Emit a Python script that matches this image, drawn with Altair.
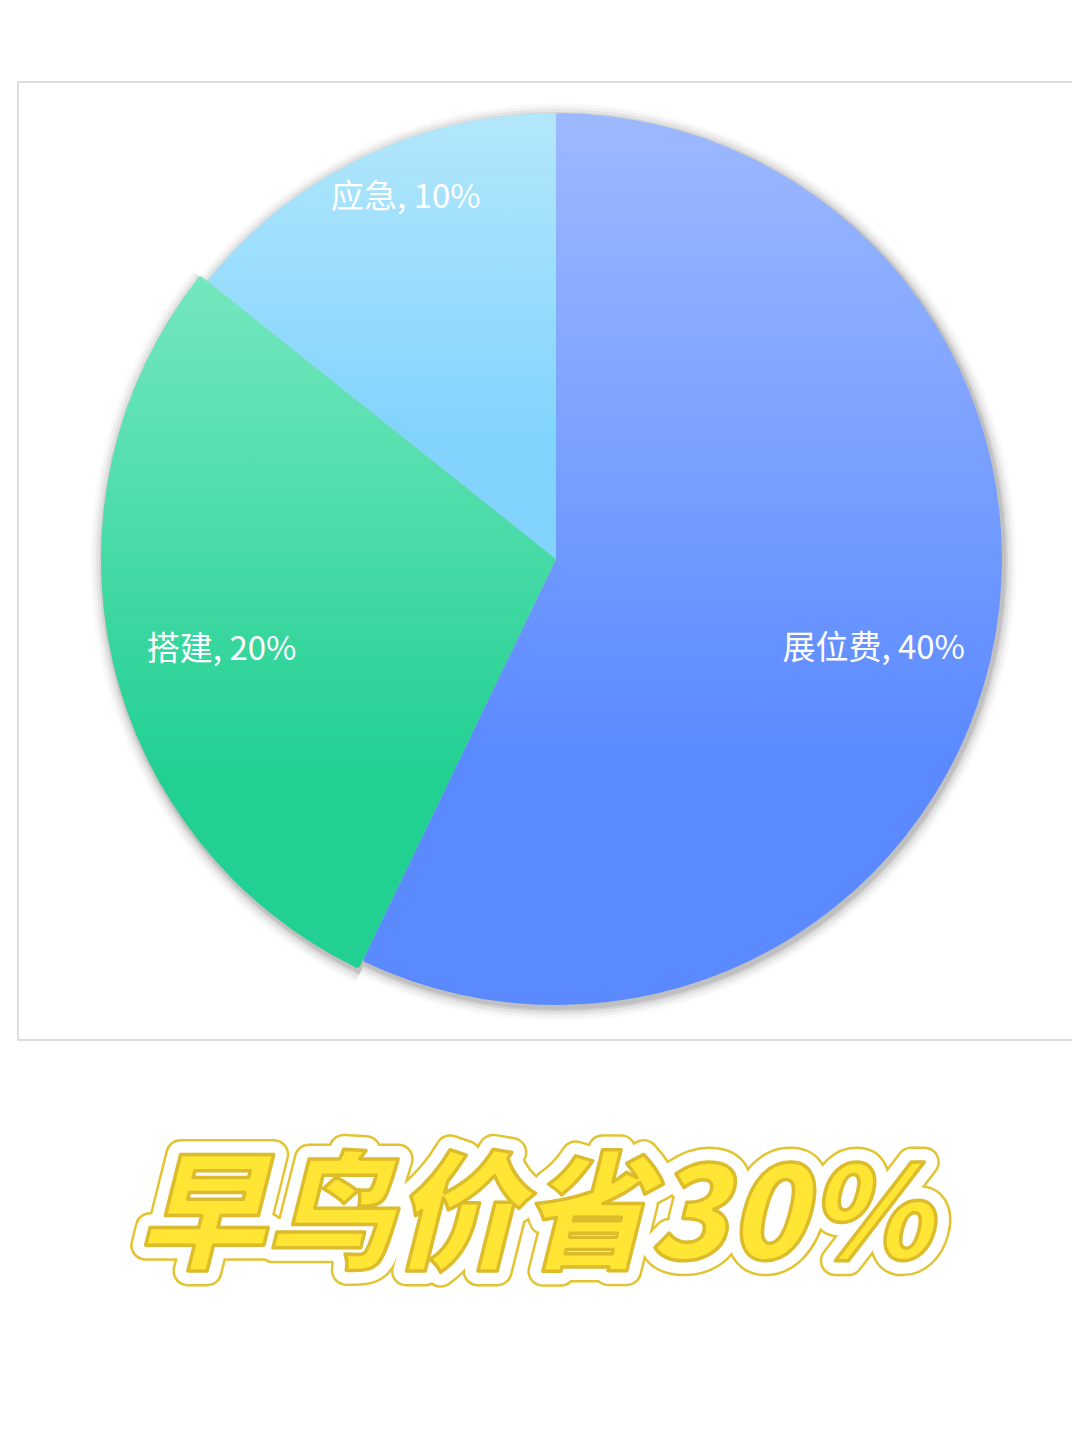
import altair as alt
import pandas as pd

# ---- data ----
categories = ["展位费", "搭建", "应急"]
values = [40, 20, 10]
title_text = ["早鸟价省30%"]

# ---- styles ----
CX, CY = 548, 551
W, H = 1064, 1423
radius = {"展位费": 446, "搭建": 455, "应急": 446}
grad = {
    "展位费": ("#9db9ff", "#5b8aff"),
    "搭建": ("#74e7bf", "#22d092"),
    "应急": ("#b3e7fb", "#82d4fe"),
}
label_style = {
    "展位费": dict(radius=332, dx=-6, dy=16),
    "搭建": dict(radius=345, dx=2, dy=14),
    "应急": dict(radius=392, dx=20, dy=-8),
}

df = pd.DataFrame({"category": categories, "value": values})

base = (
    alt.Chart(df)
    .transform_window(cum="sum(value)", frame=[None, 0])
    .transform_joinaggregate(total="sum(value)")
    .transform_calculate(
        start="(datum.cum - datum.value) / datum.total * 2 * PI",
        end="datum.cum / datum.total * 2 * PI",
        label="datum.category + ', ' + datum.value + '%'",
    )
    .transform_calculate(mid="(datum.start + datum.end) / 2")
)

layers = []

# frame
frame = alt.Chart(alt.Data(values=[{"k": 1}])).mark_rect(
    fill="white", stroke="#d4d4d4", strokeWidth=1.5
).encode(x=alt.value(10), x2=alt.value(1090), y=alt.value(74), y2=alt.value(1032))
layers.append(frame)

# shadows
for cat in categories:
    r = radius[cat]
    for k, op in [(13, 0.02), (10, 0.035), (7, 0.05), (4, 0.07), (2, 0.09)]:
        layers.append(
            base.transform_filter(alt.datum.category == cat)
            .mark_arc(color="#000000", opacity=op, outerRadius=r + k)
            .encode(
                theta=alt.Theta("start:Q", scale=None),
                theta2=alt.Theta2("end:Q"),
                x=alt.value(CX + 2),
                y=alt.value(CY + 3),
            )
        )

# slices
for cat in categories:
    c0, c1 = grad[cat]
    g = alt.Gradient(
        gradient="linear",
        stops=[
            alt.GradientStop(color=c0, offset=0),
            alt.GradientStop(color=c1, offset=0.72),
            alt.GradientStop(color=c1, offset=1),
        ],
        x1=0, x2=0, y1=0, y2=1,
    )
    layers.append(
        base.transform_filter(alt.datum.category == cat)
        .mark_arc(color=g, outerRadius=radius[cat], cornerRadius=3)
        .encode(
            theta=alt.Theta("start:Q", scale=None),
            theta2=alt.Theta2("end:Q"),
            x=alt.value(CX),
            y=alt.value(CY),
        )
    )

# labels
for cat in categories:
    s = label_style[cat]
    layers.append(
        base.transform_filter(alt.datum.category == cat)
        .mark_text(
            radius=s["radius"], dx=s["dx"], dy=s["dy"],
            font="Noto Sans CJK SC", fontSize=33, color="white",
            align="center", baseline="middle",
        )
        .encode(
            theta=alt.Theta("mid:Q", scale=None),
            text="label:N",
            x=alt.value(CX),
            y=alt.value(CY),
        )
    )

# big title
tdf = pd.DataFrame({"t": title_text})
tbase = alt.Chart(tdf)
tprops = dict(font="Noto Sans CJK SC", fontSize=128, fontWeight=900,
              fontStyle="italic", align="center", baseline="middle",
              strokeJoin="round")
tenc = dict(text="t:N", x=alt.value(526), y=alt.value(1213))
layers.append(tbase.mark_text(fill="#e2c433", stroke="#e2c433", strokeWidth=31, **tprops).encode(**tenc))
layers.append(tbase.mark_text(fill="white", stroke="white", strokeWidth=26, **tprops).encode(**tenc))
layers.append(tbase.mark_text(fill="#ffe534", stroke="#dcbc2a", strokeWidth=3.5, **tprops).encode(**tenc))

chart = (
    alt.layer(*layers)
    .properties(width=W, height=H, autosize=alt.AutoSizeParams(type="none"),
                padding=0, background="white")
    .configure_view(strokeWidth=0, stroke="transparent")
)

chart.save("out.html", embed_options={"renderer": "svg", "actions": False})
